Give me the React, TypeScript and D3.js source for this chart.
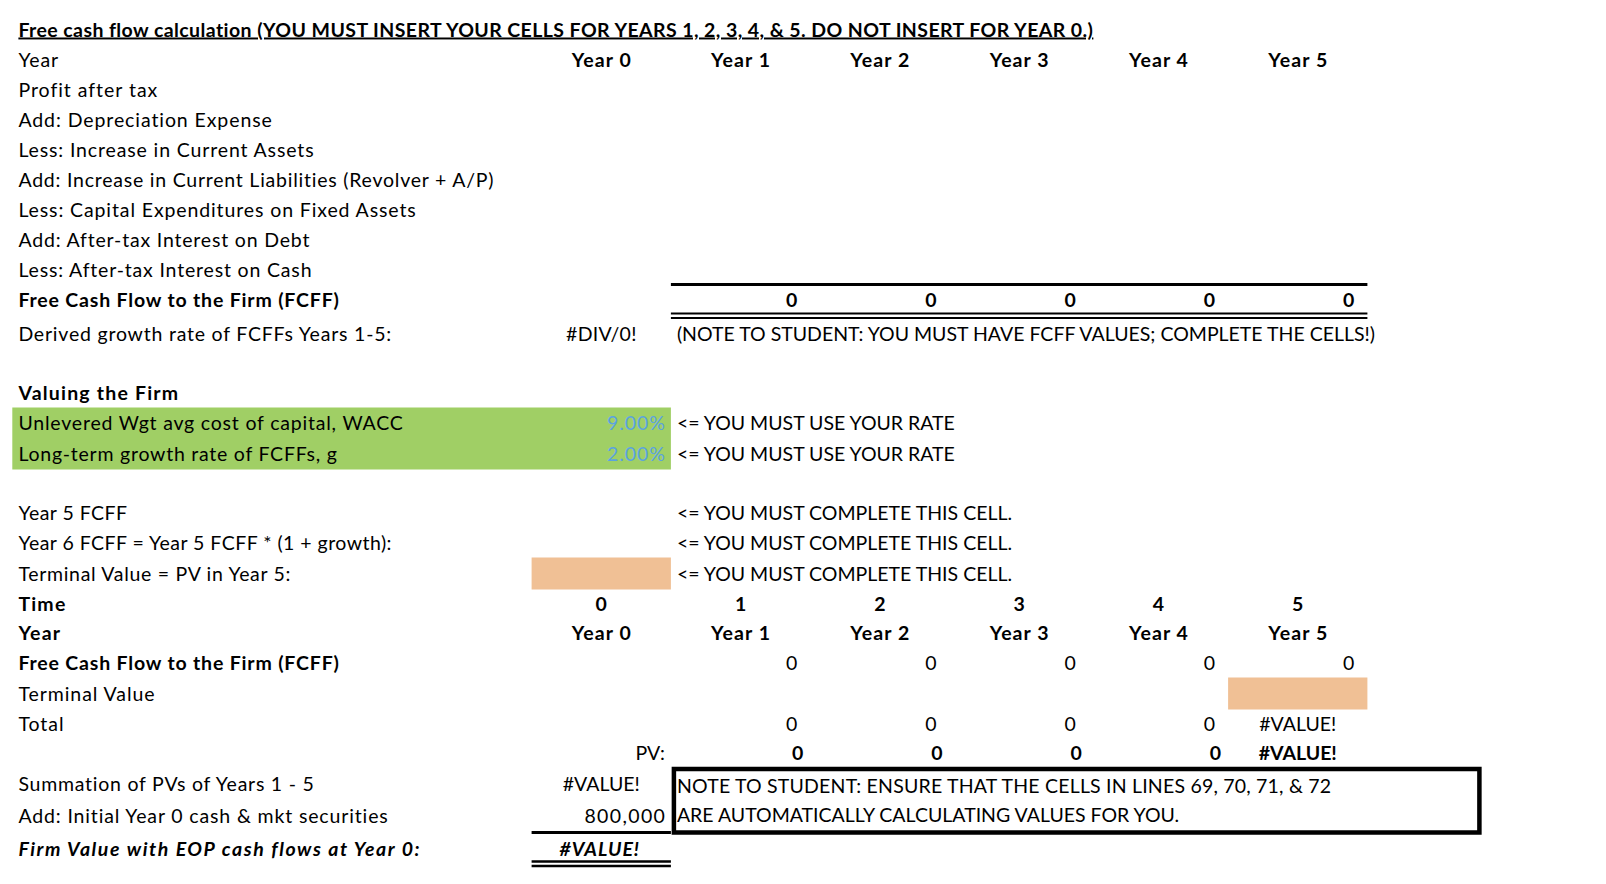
import React from "react";
import * as d3 from "d3";

const W = 1606;
const H = 884;

// ---- data ----
const columns = ["C", "D", "E", "F", "G", "H"];
const yearLabels = ["Year 0", "Year 1", "Year 2", "Year 3", "Year 4", "Year 5"];
const timeLabels = ["0", "1", "2", "3", "4", "5"];
const fcffTotals = [0, 0, 0, 0, 0]; // Years 1-5, FCFF summary row
const fcffValues = [0, 0, 0, 0, 0]; // Years 1-5, timeline FCFF row
const totalValues = ["0", "0", "0", "0", "#VALUE!"];
const pvValues = ["0", "0", "0", "0", "#VALUE!"];
const waccRate = 0.09;
const growthRate = 0.02;
const initialCash = 800000;

const title =
  "Free cash flow calculation (YOU MUST INSERT YOUR CELLS FOR YEARS 1, 2, 3, 4, & 5. DO NOT INSERT FOR YEAR 0.)";

// [row, text, bold, italic]
const rowLabels: [number, string, boolean, boolean][] = [
  [1, "Year", false, false],
  [2, "Profit after tax", false, false],
  [3, "Add: Depreciation Expense", false, false],
  [4, "Less: Increase in Current Assets", false, false],
  [5, "Add: Increase in Current Liabilities (Revolver + A/P)", false, false],
  [6, "Less: Capital Expenditures on Fixed Assets", false, false],
  [7, "Add: After-tax Interest on Debt", false, false],
  [8, "Less: After-tax Interest on Cash", false, false],
  [9, "Free Cash Flow to the Firm (FCFF)", true, false],
  [10, "Derived growth rate of FCFFs Years 1-5:", false, false],
  [12, "Valuing the Firm", true, false],
  [13, "Unlevered Wgt avg cost of capital, WACC", false, false],
  [14, "Long-term growth rate of FCFFs, g", false, false],
  [16, "Year 5 FCFF", false, false],
  [17, "Year 6 FCFF = Year 5 FCFF * (1 + growth):", false, false],
  [18, "Terminal Value = PV in Year 5:", false, false],
  [19, "Time", true, false],
  [20, "Year", true, false],
  [21, "Free Cash Flow to the Firm (FCFF)", true, false],
  [22, "Terminal Value", false, false],
  [23, "Total", false, false],
  [25, "Summation of PVs of Years 1 - 5", false, false],
  [26, "Add: Initial Year 0 cash & mkt securities", false, false],
  [27, "Firm Value with EOP cash flows at Year 0:", true, true],
];

const rateNote = "<= YOU MUST USE YOUR RATE";
const completeNote = "<= YOU MUST COMPLETE THIS CELL.";
const fcffNote = "(NOTE TO STUDENT: YOU MUST HAVE FCFF VALUES; COMPLETE THE CELLS!)";
const boxNote1 = "NOTE TO STUDENT: ENSURE THAT THE CELLS IN LINES 69, 70, 71, & 72";
const boxNote2 = "ARE AUTOMATICALLY CALCULATING VALUES FOR YOU.";

// ---- layout ----
const rowHeights = [
  30, 30, 30, 30, 30, 30, 30, 30, 30, 31, 36, 26, 30, 31, 31, 29, 29.5, 29.5, 32, 29, 29.5,
  29.5, 32, 28.5, 29.5, 32, 33, 33.5,
];
const firstTop = 14.5;
const rowTops = [firstTop, ...Array.from(d3.cumsum(rowHeights)).map((v) => firstTop + v)];
const rowTop = (r: number) => rowTops[r];
const rowBottom = (r: number) => rowTops[r + 1];
const rowMid = (r: number) => (rowTops[r] + rowTops[r + 1]) / 2;

const FONT = "Lato, 'Open Sans', sans-serif";
const FS = 19.5;
const GREEN = "#A0CF65";
const ORANGE = "#F0C095";
const BLUE = "#5BA3E0";

const fmtInt = d3.format(",.0f");
const fmtPct = d3.format(".2%");

// widen lowercase letters & digits to approximate Calibri metrics with Lato
function spacingFor(text: string, bold?: boolean, italic?: boolean) {
  if (!text.length) return 0;
  let lower = 0;
  let digit = 0;
  for (const ch of text) {
    if (/[a-z]/.test(ch)) lower++;
    else if (/[0-9]/.test(ch)) digit++;
  }
  const kl = bold ? 1.6 : 1.2;
  const kd = 1.6;
  const base = (kl * lower + kd * digit) / text.length;
  return italic ? 1.0 + 0.55 * base : base;
}

type TP = {
  x: number;
  r: number;
  text: string;
  anchor?: "start" | "middle" | "end";
  bold?: boolean;
  italic?: boolean;
  fill?: string;
  underline?: boolean;
  dy?: number;
};
function T({ x, r, text, anchor = "start", bold, italic, fill = "#000", underline, dy = 0 }: TP) {
  const ls = spacingFor(text, bold, italic);
  // letter-spacing adds trailing space after last glyph; compensate for anchor
  const shift = anchor === "end" ? ls : anchor === "middle" ? ls / 2 : 0;
  return (
    <text
      x={x + shift}
      y={rowMid(r) + 7 + dy}
      textAnchor={anchor}
      fontFamily={FONT}
      fontSize={FS}
      fontWeight={bold ? 700 : 400}
      fontStyle={italic ? "italic" : "normal"}
      fill={fill}
      letterSpacing={ls}
      textDecoration={underline ? "underline" : undefined}
    >
      {text}
    </text>
  );
}

export default function App() {
  const x = d3.scaleBand<string>().domain(columns).range([531.6, 1367.4]).padding(0);
  const cw = x.bandwidth();
  const cx = (c: string) => (x(c) as number) + cw / 2;
  const cr = (c: string) => (x(c) as number) + cw;
  const yearCols = columns.slice(1);
  const labelX = 18.4;
  const noteX = (x("D") as number) + 6;
  const padNum = 13;
  const padBold = 7;
  const cLeft = x("C") as number;
  const cRight = cr("C");

  return (
    <svg width={W} height={H} style={{ position: "absolute", left: 0, top: 0, background: "#fff" }}>
      <rect x={0} y={0} width={W} height={H} fill="#fff" />
      {/* fills */}
      <rect x={12.3} y={rowTop(13)} width={cRight - 12.3} height={rowBottom(14) - rowTop(13)} fill={GREEN} />
      <rect x={cLeft} y={rowTop(18)} width={cw} height={rowBottom(18) - rowTop(18)} fill={ORANGE} />
      <rect x={x("H") as number} y={rowTop(22)} width={cw} height={rowBottom(22) - rowTop(22)} fill={ORANGE} />

      {/* title */}
      <T x={labelX} r={0} text={title} bold underline />

      {/* row labels */}
      {rowLabels.map(([r, t, b, i]) => (
        <T key={r} x={labelX} r={r} text={t} bold={b} italic={i} />
      ))}

      {/* year headers */}
      {columns.map((c, i) => (
        <T key={"y1" + c} x={cx(c)} r={1} text={yearLabels[i]} anchor="middle" bold />
      ))}

      {/* FCFF summary row borders */}
      <line x1={x("D") as number} x2={cr("H")} y1={rowTop(9)} y2={rowTop(9)} stroke="#000" strokeWidth={3} />
      <line x1={x("D") as number} x2={cr("H")} y1={rowBottom(9) - 2} y2={rowBottom(9) - 2} stroke="#000" strokeWidth={2} />
      <line x1={x("D") as number} x2={cr("H")} y1={rowBottom(9) + 2.5} y2={rowBottom(9) + 2.5} stroke="#000" strokeWidth={2} />
      {yearCols.map((c, i) => (
        <T key={"f" + c} x={cr(c) - padNum} r={9} text={fmtInt(fcffTotals[i])} anchor="end" bold />
      ))}

      {/* derived growth */}
      <T x={cx("C")} r={10} text="#DIV/0!" anchor="middle" />
      <T x={noteX} r={10} text={fcffNote} />

      {/* rates */}
      <T x={cRight - 6} r={13} text={fmtPct(waccRate)} anchor="end" fill={BLUE} />
      <T x={cRight - 6} r={14} text={fmtPct(growthRate)} anchor="end" fill={BLUE} />
      <T x={noteX} r={13} text={rateNote} />
      <T x={noteX} r={14} text={rateNote} />

      {/* complete notes */}
      {[16, 17, 18].map((r) => (
        <T key={"cn" + r} x={noteX} r={r} text={completeNote} />
      ))}

      {/* time & year */}
      {columns.map((c, i) => (
        <T key={"t" + c} x={cx(c)} r={19} text={timeLabels[i]} anchor="middle" bold />
      ))}
      {columns.map((c, i) => (
        <T key={"y2" + c} x={cx(c)} r={20} text={yearLabels[i]} anchor="middle" bold />
      ))}

      {/* timeline FCFF */}
      {yearCols.map((c, i) => (
        <T key={"fv" + c} x={cr(c) - padNum} r={21} text={fmtInt(fcffValues[i])} anchor="end" />
      ))}

      {/* totals */}
      {yearCols.map((c, i) =>
        totalValues[i].startsWith("#") ? (
          <T key={"tv" + c} x={cx(c)} r={23} text={totalValues[i]} anchor="middle" />
        ) : (
          <T key={"tv" + c} x={cr(c) - padNum} r={23} text={totalValues[i]} anchor="end" />
        )
      )}

      {/* PV */}
      <T x={cRight - 6} r={24} text="PV:" anchor="end" />
      {yearCols.map((c, i) =>
        pvValues[i].startsWith("#") ? (
          <T key={"pv" + c} x={cx(c)} r={24} text={pvValues[i]} anchor="middle" bold />
        ) : (
          <T key={"pv" + c} x={cr(c) - padBold} r={24} text={pvValues[i]} anchor="end" bold />
        )
      )}

      {/* summation */}
      <T x={cx("C")} r={25} text="#VALUE!" anchor="middle" />
      <T x={cRight - 6} r={26} text={fmtInt(initialCash)} anchor="end" />
      <line x1={cLeft} x2={cRight} y1={rowTop(27)} y2={rowTop(27)} stroke="#000" strokeWidth={3} />
      <T x={cx("C") - 2} r={27} text="#VALUE!" anchor="middle" bold italic />
      <line x1={cLeft} x2={cRight} y1={rowBottom(27) - 4.5} y2={rowBottom(27) - 4.5} stroke="#000" strokeWidth={2.5} />
      <line x1={cLeft} x2={cRight} y1={rowBottom(27)} y2={rowBottom(27)} stroke="#000" strokeWidth={2.5} />

      {/* note box */}
      <rect
        x={(x("D") as number) + 3}
        y={rowTop(25) + 1.5}
        width={cr("H") + 112 - (x("D") as number) - 3}
        height={rowBottom(26) - rowTop(25) - 1.5}
        fill="none"
        stroke="#000"
        strokeWidth={4.5}
      />
      <T x={noteX} r={25} text={boxNote1} dy={2} />
      <T x={noteX} r={26} text={boxNote2} dy={-1} />
    </svg>
  );
}
